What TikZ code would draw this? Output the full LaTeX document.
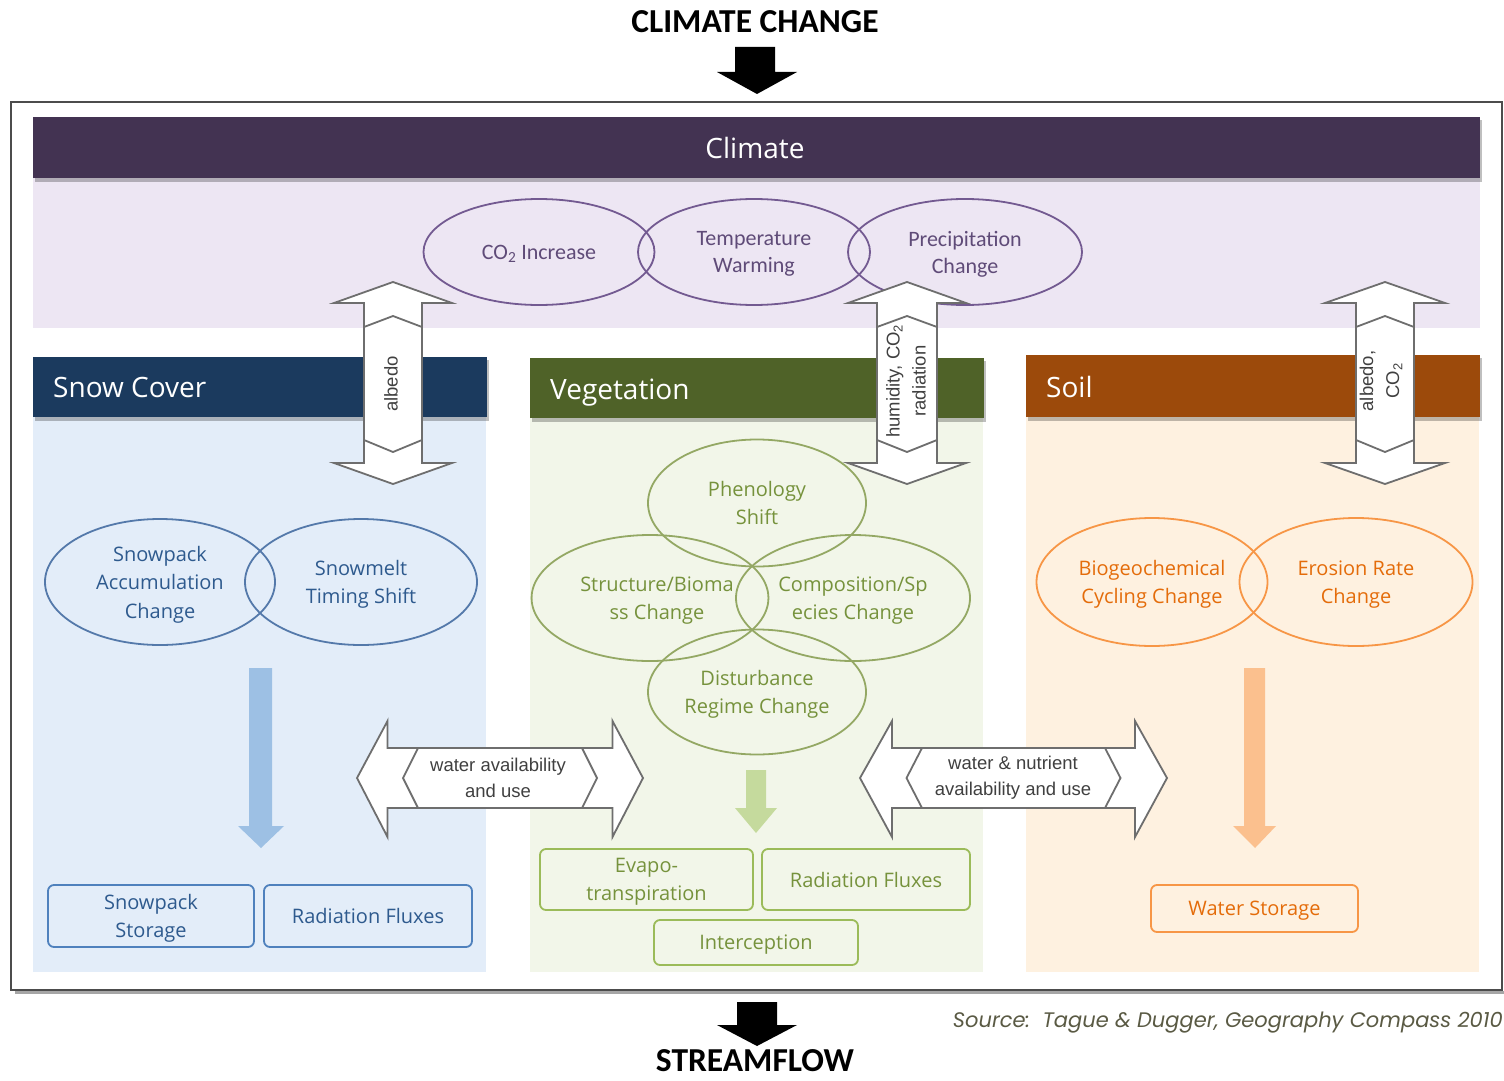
\documentclass[tikz,border=0pt]{standalone}
\usepackage{fontspec}
\setmainfont{Open Sans}
\newfontfamily\calfont{Carlito}
\newfontfamily\arfont{Liberation Sans}
\newfontfamily\srcfont{Poppins}
\usetikzlibrary{shapes.geometric}
\definecolor{climhead}{HTML}{433352}
\definecolor{climband}{HTML}{EDE6F3}
\definecolor{climstroke}{HTML}{735A91}
\definecolor{climtext}{HTML}{5F4B78}
\definecolor{snowhead}{HTML}{1B3A5E}
\definecolor{snowbg}{HTML}{E3EDF9}
\definecolor{snowstroke}{HTML}{5479AA}
\definecolor{snowtext}{HTML}{2E5A8E}
\definecolor{snowbox}{HTML}{4F81BD}
\definecolor{veghead}{HTML}{4F6228}
\definecolor{vegbg}{HTML}{F2F6E9}
\definecolor{vegstroke}{HTML}{94A864}
\definecolor{vegtext}{HTML}{76923C}
\definecolor{vegbox}{HTML}{9BBB59}
\definecolor{soilhead}{HTML}{9C4A0B}
\definecolor{soilbg}{HTML}{FEF1E0}
\definecolor{soilstroke}{HTML}{F79646}
\definecolor{soiltext}{HTML}{E46C0A}
\definecolor{arrowgray}{HTML}{6E6E6E}
\definecolor{snowarrow}{HTML}{9DC0E4}
\definecolor{vegarrow}{HTML}{C5DA9D}
\definecolor{soilarrow}{HTML}{FBC08E}
\definecolor{srccol}{HTML}{5A5A44}
\definecolor{lbltext}{HTML}{404040}
\tikzset{
  ell/.style={ellipse, draw, line width=1.8pt, inner sep=0pt, align=center, text depth=0pt},
  climell/.style={ell, draw=climstroke, text=climtext, font=\calfont\fontsize{22}{27}\selectfont, minimum height=106pt},
  snowell/.style={ell, draw=snowstroke, text=snowtext, font=\fontsize{20}{28.5}\selectfont, minimum height=126pt},
  vegell/.style={ell, draw=vegstroke, text=vegtext, font=\fontsize{20}{28.5}\selectfont, minimum height=126pt},
  soilell/.style={ell, draw=soilstroke, text=soiltext, font=\fontsize{20}{28.5}\selectfont, minimum height=128pt},
  fbox/.style={draw, rounded corners=6pt, line width=1.8pt, inner sep=0pt, align=center, text depth=0pt, font=\fontsize{20}{28.5}\selectfont},
  headtxt/.style={text=white, font=\fontsize{28}{32}\selectfont, anchor=base west, inner sep=0pt},
  dblarrow/.style={draw=arrowgray, fill=white, line width=1.8pt, line join=miter},
  lbl/.style={text=lbltext, font=\arfont\fontsize{18.5}{26}\selectfont, align=center, inner sep=0pt},
  bigtitle/.style={font=\calfont\bfseries\fontsize{33.5}{36}\selectfont, text=black, anchor=base, inner sep=0pt}
}
\newcommand\vdarrowshape[4]{%
  \draw[dblarrow] ({#1},{#2-101}) -- ({#1+#3},{#2-80}) -- ({#1+#4},{#2-80}) -- ({#1+#4},{#2+80}) -- ({#1+#3},{#2+80}) -- ({#1},{#2+101}) -- ({#1-#3},{#2+80}) -- ({#1-#4},{#2+80}) -- ({#1-#4},{#2-80}) -- ({#1-#3},{#2-80}) -- cycle;
  \draw[dblarrow, fill=none] ({#1-#4},{#2-56}) -- ({#1},{#2-67}) -- ({#1+#4},{#2-56});
  \draw[dblarrow, fill=none] ({#1-#4},{#2+57}) -- ({#1},{#2+69}) -- ({#1+#4},{#2+57});
}
\newcommand\hdarrowshape[6]{%
  \draw[dblarrow] ({#1-#3},{#2}) -- ({#1-#4},{#2-57}) -- ({#1-#4},{#2-30}) -- ({#1+#4},{#2-30}) -- ({#1+#4},{#2-57}) -- ({#1+#3},{#2}) -- ({#1+#4},{#2+59}) -- ({#1+#4},{#2+30}) -- ({#1-#4},{#2+30}) -- ({#1-#4},{#2+59}) -- cycle;
  \draw[dblarrow, fill=none] ({#1-#5},{#2-30}) -- ({#1-#6},{#2}) -- ({#1-#5},{#2+30});
  \draw[dblarrow, fill=none] ({#1+#5},{#2-30}) -- ({#1+#6},{#2}) -- ({#1+#5},{#2+30});
}
\begin{document}
\begin{tikzpicture}[x=1pt,y=-1pt]
\useasboundingbox (0,0) rectangle (1504,1081);
\fill[white] (0,0) rectangle (1504,1081);

% titles and black arrows
\node[bigtitle] (cc) at (755,33) {CLIMATE CHANGE};
\fill[black] (735,47) -- (775,47) -- (775,72) -- (797,72) -- (757,94) -- (717,72) -- (735,72) -- cycle;
\node[bigtitle] (sf) at (755,1071) {STREAMFLOW};
\fill[black] (737,1002) -- (777,1002) -- (777,1025) -- (797,1025) -- (757,1046) -- (717,1025) -- (737,1025) -- cycle;

% outer frame
\draw[black!35, line width=3pt] (15,992) -- (1505,992) -- (1505,106);
\draw[black!70, line width=2.4pt] (11,102) rectangle (1502,990);

% climate section
\fill[climband] (33,178) rectangle (1480,328);
\fill[black, opacity=0.25] (35,120) rectangle (1482,182);
\fill[climhead] (33,117) rectangle (1480,178);
\node[text=white, font=\fontsize{28}{32}\selectfont, anchor=base, inner sep=0pt] (climT) at (755,158) {Climate};

% snow section
\fill[snowbg] (33,417) rectangle (486,972);
\fill[black, opacity=0.25] (35,360) rectangle (489,421);
\fill[snowhead] (33,357) rectangle (487,417);
\node[headtxt] (snowT) at (53,397) {Snow Cover};

% vegetation section
\fill[vegbg] (530,418) rectangle (983,972);
\fill[black, opacity=0.25] (532,361) rectangle (986,422);
\fill[veghead] (530,358) rectangle (984,418);
\node[headtxt] (vegT) at (550,399) {Vegetation};

% soil section
\fill[soilbg] (1026,417) rectangle (1479,972);
\fill[black, opacity=0.25] (1028,358) rectangle (1482,421);
\fill[soilhead] (1026,355) rectangle (1480,417);
\node[headtxt] (soilT) at (1046,397) {Soil};

% climate ellipses
\node[climell, minimum width=231pt] (co2) at (539,252) {CO\textsubscript{2} Increase};
\node[climell, minimum width=232pt] (temp) at (754,252) {Temperature\\Warming};
\node[climell, minimum width=234pt] (prec) at (965,252) {Precipitation\\Change};

% snow ellipses
\node[snowell, minimum width=230pt] (sac) at (160,582) {Snowpack\\Accumulation\\Change};
\node[snowell, minimum width=232pt] (smt) at (361,582) {Snowmelt\\Timing Shift};

% vegetation ellipses
\node[vegell, minimum width=218pt, minimum height=127pt] (phen) at (757,503) {Phenology\\Shift};
\node[vegell, minimum width=214pt] (struct) at (650,598) {\hspace*{14pt}Structure/Bioma\\\hspace*{14pt}ss Change};
\node[vegell, minimum width=234pt] (comp) at (853,598) {Composition/Sp\\ecies Change};
\node[vegell, minimum width=218pt, minimum height=125pt] (dist) at (757,692) {Disturbance\\Regime Change};

% soil ellipses
\node[soilell, minimum width=231pt] (bio) at (1152,582) {Biogeochemical\\Cycling Change};
\node[soilell, minimum width=233pt] (ero) at (1356,582) {Erosion Rate\\Change};

% flat down arrows
\fill[snowarrow] (249,668) -- (272,668) -- (272,826) -- (284,826) -- (261,848) -- (238,826) -- (249,826) -- cycle;
\fill[vegarrow] (746,770) -- (766,770) -- (766,808) -- (777,808) -- (756,833) -- (735,808) -- (746,808) -- cycle;
\fill[soilarrow] (1244,668) -- (1265,668) -- (1265,826) -- (1276,826) -- (1255,848) -- (1233,826) -- (1244,826) -- cycle;

% boxes
\node[fbox, draw=snowbox, text=snowtext, minimum width=206pt, minimum height=62pt] (sps) at (151,916) {Snowpack\\Storage};
\node[fbox, draw=snowbox, text=snowtext, minimum width=208pt, minimum height=62pt] (srf) at (368,916) {Radiation Fluxes};
\node[fbox, draw=vegbox, text=vegtext, minimum width=213pt, minimum height=61pt] (evt) at (646.5,879.5) {Evapo-\\transpiration};
\node[fbox, draw=vegbox, text=vegtext, minimum width=208pt, minimum height=61pt] (vrf) at (866,879.5) {Radiation Fluxes};
\node[fbox, draw=vegbox, text=vegtext, minimum width=204pt, minimum height=45pt] (int) at (756,942.5) {Interception};
\node[fbox, draw=soilstroke, text=soiltext, minimum width=207pt, minimum height=47pt] (ws) at (1254.5,908.5) {Water Storage};

% vertical double arrows
\vdarrowshape{393}{383}{59}{29}
\vdarrowshape{907}{383}{59}{30}
\vdarrowshape{1385}{383}{60}{29}
\node[lbl, rotate=90] (albL) at (391,384) {albedo};
\node[lbl, rotate=90] (humL) at (906,381) {humidity, CO\textsubscript{2}\\radiation};
\node[lbl, rotate=90] (albcoL) at (1381,381) {albedo,\\CO\textsubscript{2}};

% horizontal double arrows
\hdarrowshape{500}{778}{143}{112.5}{82}{97}
\hdarrowshape{1013.5}{778}{153.5}{121.5}{91.5}{107}
\node[lbl] (wau) at (498,778) {water availability\\and use};
\node[lbl] (wnau) at (1013,778) {water \& nutrient\\availability and use};

% source
\node[anchor=base east, inner sep=0pt, text=srccol, font=\srcfont\itshape\fontsize{21}{24}\selectfont] (src) at (1503,1027) {Source:~~Tague \& Dugger, Geography Compass 2010};
\end{tikzpicture}
\end{document}
